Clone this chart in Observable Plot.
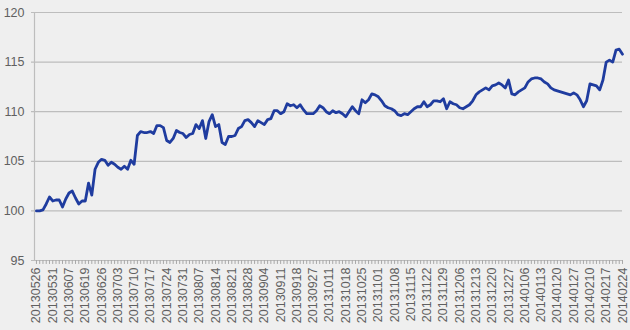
<!DOCTYPE html>
<html>
<head>
<meta charset="utf-8">
<script src="https://cdn.jsdelivr.net/npm/d3@7"></script>
<script src="https://cdn.jsdelivr.net/npm/@observablehq/plot@0.6"></script>
<style>
  html, body { margin: 0; padding: 0; background: #efefef; }
  #chart { width: 630px; height: 330px; }
</style>
</head>
<body>
<div id="chart"></div>
<script>
const tickLabels = ["20130526","20130531","20130607","20130619","20130626","20130703","20130710","20130717","20130724","20130731","20130807","20130814","20130821","20130828","20130904","20130911","20130918","20130927","20131011","20131018","20131025","20131101","20131108","20131115","20131122","20131129","20131206","20131213","20131220","20131227","20140106","20140113","20140120","20140127","20140210","20140217","20140224"];

const values = [
100.0,100.0,100.1,100.7,101.4,101.0,101.1,101.1,100.4,101.2,
101.8,102.0,101.3,100.7,101.0,101.0,102.8,101.6,104.2,104.9,
105.2,105.1,104.6,104.9,104.7,104.4,104.2,104.5,104.2,105.1,
104.7,107.6,108.0,107.9,107.9,108.0,107.8,108.6,108.6,108.4,
107.1,106.9,107.3,108.1,107.9,107.8,107.4,107.7,107.8,108.7,
108.3,109.1,107.3,109.0,109.7,108.5,108.7,106.9,106.7,107.5,
107.5,107.6,108.3,108.5,109.1,109.2,108.9,108.5,109.1,108.9,
108.7,109.2,109.3,110.1,110.1,109.8,110.0,110.8,110.6,110.7,
110.4,110.7,110.2,109.8,109.8,109.8,110.1,110.6,110.4,110.0,
109.8,110.1,109.9,110.0,109.8,109.5,110.0,110.5,110.1,109.8,
111.2,110.9,111.2,111.8,111.7,111.5,111.1,110.6,110.4,110.3,
110.1,109.7,109.6,109.8,109.7,110.0,110.3,110.5,110.5,111.0,
110.5,110.7,111.1,111.1,111.0,111.3,110.3,111.0,110.8,110.7,
110.4,110.3,110.5,110.7,111.1,111.7,112.0,112.2,112.4,112.2,
112.6,112.7,112.9,112.7,112.4,113.2,111.8,111.7,112.0,112.2,
112.4,113.0,113.3,113.4,113.4,113.3,113.0,112.8,112.4,112.2,
112.1,112.0,111.9,111.8,111.7,111.9,111.7,111.2,110.5,111.1,
112.8,112.7,112.6,112.2,113.2,115.0,115.2,115.0,116.2,116.3,
115.8
];

const yTicks = [95, 100, 105, 110, 115, 120];

const data = values.map((v, i) => ({i, v}));
const labelPositions = tickLabels.map((_, k) => k * 5);

const chart = Plot.plot({
  width: 630,
  height: 330,
  marginTop: 12,
  marginBottom: 70,
  marginLeft: 34,
  marginRight: 8,
  style: {background: "#efefef", fontFamily: "Liberation Sans, Arial, sans-serif", fontSize: "12px", color: "#606060"},
  x: {domain: [-0.6, 180], axis: null},
  y: {domain: [95, 120], axis: null},
  marks: [
    Plot.ruleY(yTicks, {stroke: "#bdbdbd", strokeWidth: 1.2, insetLeft: -3}),
    Plot.ruleX([-0.6], {stroke: "#bdbdbd", strokeWidth: 1.2}),
    Plot.ruleX(d3.range(181), {x: d => d, y1: 95, y2: 94.6, stroke: "#a8a8a8", strokeWidth: 1}),
    Plot.axisY(yTicks, {anchor: "left", label: null, tickSize: 0, tickPadding: 10, fill: "#606060", fontSize: 12.5}),
    Plot.axisX(labelPositions, {anchor: "bottom", label: null, tickSize: 0, tickPadding: 7, tickRotate: -90, tickFormat: d => tickLabels[d / 5], fill: "#606060", fontSize: 12.5}),
    Plot.lineY(data, {x: "i", y: "v", stroke: "#1f3c9f", strokeWidth: 2.8, strokeLinejoin: "round"})
  ]
});
document.getElementById("chart").appendChild(chart);
</script>
</body>
</html>
